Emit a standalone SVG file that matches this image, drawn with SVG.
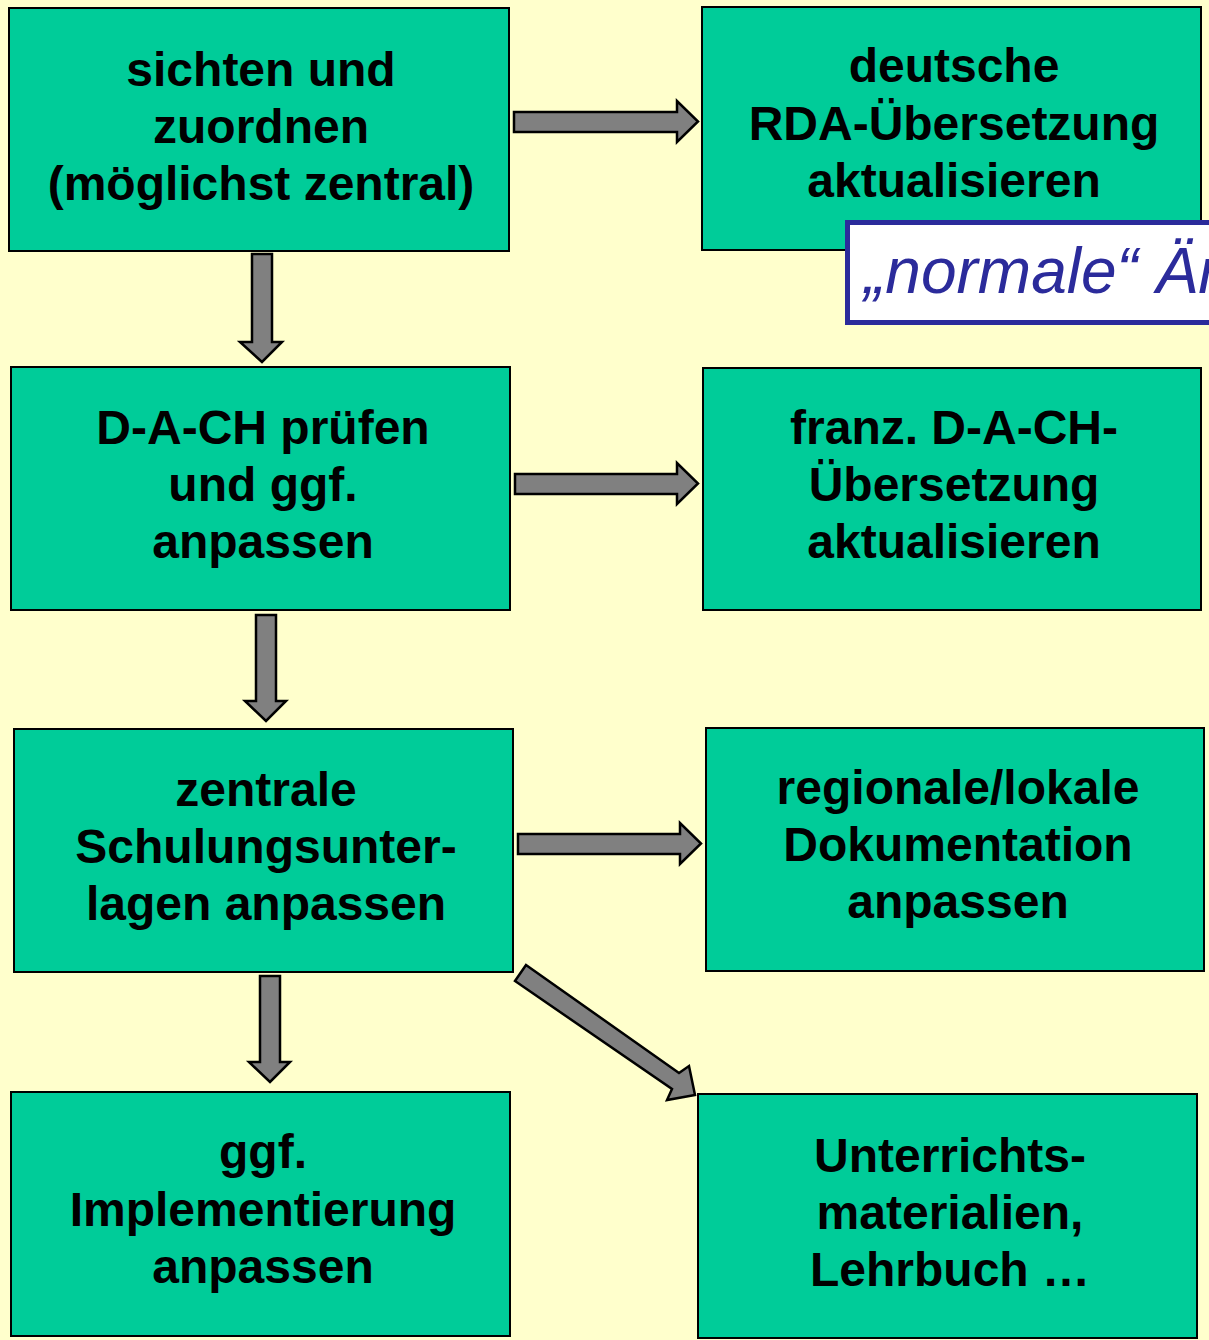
<svg xmlns="http://www.w3.org/2000/svg" width="1209" height="1340" viewBox="0 0 1209 1340">
<style>
.box{fill:#00CC99;stroke:#000;stroke-width:2}
.t{font-family:"Liberation Sans",Arial,sans-serif;font-weight:bold;font-size:48px;fill:#000;text-anchor:middle}
.arr{fill:#808080;stroke:#000;stroke-width:2.5;stroke-linejoin:miter}
.note{fill:#fff;stroke:#2B2B9B;stroke-width:5}
.nt{font-family:"Liberation Sans",Arial,sans-serif;font-style:italic;font-size:64px;fill:#2B2B9B}
</style>
<rect x="0" y="0" width="1209" height="1340" fill="#FFFFCC"/>
<g id="connectors">
<polygon class="arr" points="514,112 677,112 677,101 698,121.5 677,142 677,132 514,132"/>
<polygon class="arr" points="515,474 677,474 677,463 698,483.5 677,504 677,494 515,494"/>
<polygon class="arr" points="518,834 680,834 680,823 701,843.5 680,864 680,854 518,854"/>
<polygon class="arr" points="252,254 272,254 272,342 282,342 262,362 240,342 252,342"/>
<polygon class="arr" points="256,615 276,615 276,701 286,701 266,721 245,701 256,701"/>
<polygon class="arr" points="260,976 280,976 280,1062 290,1062 270,1082 249,1062 260,1062"/>
<polygon class="arr" points="526,965 679,1073 689,1066 695,1095 667,1100 672,1089 515,981"/>
</g>
<g id="n1"><rect class="box" x="9" y="8" width="500" height="243"/>
<text class="t" x="261" y="86">sichten und</text><text class="t" x="261" y="143">zuordnen</text><text class="t" x="261" y="200">(möglichst zentral)</text></g>
<g id="n2"><rect class="box" x="702" y="7" width="499" height="243"/>
<text class="t" x="954" y="82">deutsche</text><text class="t" x="954" y="140">RDA-Übersetzung</text><text class="t" x="954" y="197">aktualisieren</text></g>
<g id="n3"><rect class="box" x="11" y="367" width="499" height="243"/>
<text class="t" x="263" y="444">D-A-CH prüfen</text><text class="t" x="263" y="501">und ggf.</text><text class="t" x="263" y="558">anpassen</text></g>
<g id="n4"><rect class="box" x="703" y="368" width="498" height="242"/>
<text class="t" x="954" y="444">franz. D-A-CH-</text><text class="t" x="954" y="501">Übersetzung</text><text class="t" x="954" y="558">aktualisieren</text></g>
<g id="n5"><rect class="box" x="14" y="729" width="499" height="243"/>
<text class="t" x="266" y="806">zentrale</text><text class="t" x="266" y="863">Schulungsunter-</text><text class="t" x="266" y="920">lagen anpassen</text></g>
<g id="n6"><rect class="box" x="706" y="728" width="498" height="243"/>
<text class="t" x="958" y="804">regionale/lokale</text><text class="t" x="958" y="861">Dokumentation</text><text class="t" x="958" y="918">anpassen</text></g>
<g id="n7"><rect class="box" x="11" y="1092" width="499" height="244"/>
<text class="t" x="263" y="1168">ggf.</text><text class="t" x="263" y="1226">Implementierung</text><text class="t" x="263" y="1283">anpassen</text></g>
<g id="n8"><rect class="box" x="698" y="1094" width="499" height="244"/>
<text class="t" x="950" y="1172">Unterrichts-</text><text class="t" x="950" y="1229">materialien,</text><text class="t" x="950" y="1286">Lehrbuch …</text></g>
<g id="note"><rect class="note" x="847.5" y="222.5" width="420" height="100"/>
<text class="nt" x="864" y="293">„normale“ Änderungen</text></g>
</svg>
